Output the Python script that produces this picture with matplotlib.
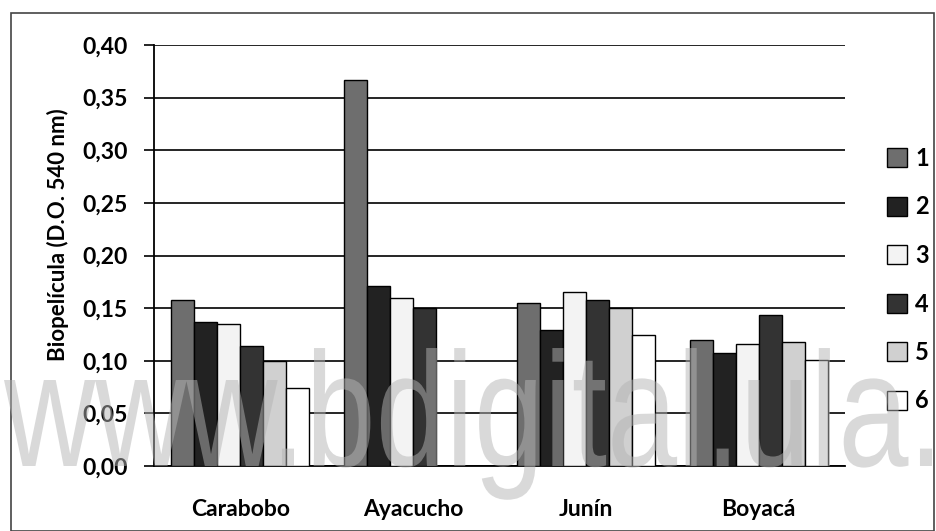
import matplotlib
matplotlib.use("Agg")
import matplotlib.pyplot as plt
import numpy as np
from matplotlib.ticker import FuncFormatter, MultipleLocator
from matplotlib.patches import Rectangle, PathPatch
from matplotlib.textpath import TextPath
from matplotlib.font_manager import FontProperties
from matplotlib.transforms import Affine2D

categories = ["Carabobo", "Ayacucho", "Junín", "Boyacá"]
series_names = ["1", "2", "3", "4", "5", "6"]
s1 = [0.158, 0.367, 0.155, 0.120]
s2 = [0.137, 0.171, 0.129, 0.107]
s3 = [0.135, 0.160, 0.165, 0.116]
s4 = [0.114, 0.150, 0.158, 0.143]
s5 = [0.100, 0.0, 0.150, 0.118]
s6 = [0.074, 0.0, 0.124, 0.101]
series = [s1, s2, s3, s4, s5, s6]
colors = ["#6e6e6e", "#222222", "#f3f3f3", "#333333", "#d0d0d0", "#ffffff"]

plt.rcParams['font.family'] = ['Lato', 'DejaVu Sans']

W, H = 937, 531
fig = plt.figure(figsize=(W / 100, H / 100), dpi=100)
ax = fig.add_axes([154 / W, 1 - 466 / H, (845 - 154) / W, (466 - 45) / H])

x = np.arange(len(categories))
bw = 0.8 / len(series)
for i, (vals, c, name) in enumerate(zip(series, colors, series_names)):
    ax.bar(x - 0.4 + bw * (i + 0.5), vals, width=bw, color=c, edgecolor="black",
           linewidth=1.0, label=name, zorder=3)

ax.set_xlim(-0.5, len(categories) - 0.5)
ax.set_ylim(0, 0.40)
ax.yaxis.set_major_locator(MultipleLocator(0.05))
ax.yaxis.set_major_formatter(FuncFormatter(lambda v, p: f"{v:.2f}".replace(".", ",")))
ax.grid(axis="y", color="black", linewidth=1.2, zorder=0)
ax.set_axisbelow(True)
for s in ["top", "right"]:
    ax.spines[s].set_visible(False)
ax.spines["left"].set_linewidth(1.3)
ax.spines["bottom"].set_linewidth(1.3)
ax.set_xticks(x)
ax.set_xticklabels(categories)
ax.tick_params(axis="x", length=0, pad=24, labelsize=16.5)
ax.tick_params(axis="y", length=7, width=1.2, pad=12, labelsize=16.5)
for lab in ax.get_xticklabels() + ax.get_yticklabels():
    lab.set_fontweight("bold")

fig.text(58 / W, 1 - 235 / H, "Biopelícula (D.O. 540 nm)", rotation=90,
         ha="center", va="center", fontsize=16, fontweight="bold")

leg = ax.legend(loc="upper left", bbox_to_anchor=(887 / W, 1 - 147 / H),
                bbox_transform=fig.transFigure, frameon=False, fontsize=17,
                handlelength=0.85, handleheight=0.85, labelspacing=1.08,
                handletextpad=0.35, borderpad=0, borderaxespad=0)
for t in leg.get_texts():
    t.set_fontweight("bold")

# outer chart-area border
fig.patches.append(Rectangle((11 / W, 0), (934 - 11) / W, 1 - 13 / H,
                             transform=fig.transFigure, fill=False,
                             edgecolor="#444444", linewidth=1.2))

# watermark (scaled text path)
fp = FontProperties(family="Liberation Sans")
ref = TextPath((0, 0), "www.bdigital.ula.", size=100, prop=fp)
xh = TextPath((0, 0), "x", size=100, prop=fp).get_extents()
ext = ref.get_extents()
sx = (932 - 4) / ext.width
sy = 86 / xh.height
full = TextPath((0, 0), "www.bdigital.ula.ve", size=100, prop=fp)
tr = Affine2D().translate(-ext.x0, 0).scale(sx, sy).translate(4, H - 466)
wm = PathPatch(tr.transform_path(full), facecolor="#b4b4b4", edgecolor="none",
               alpha=0.5, transform=None, zorder=10)
fig.patches.append(wm)

fig.savefig("out.png", dpi=100)
